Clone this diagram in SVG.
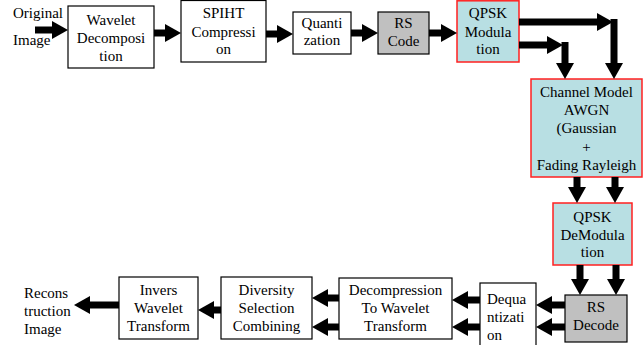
<svg xmlns="http://www.w3.org/2000/svg" width="643" height="345" viewBox="0 0 643 345" font-family="'Liberation Serif', 'DejaVu Serif', serif">
<style>
text{font-family:'Liberation Serif','DejaVu Serif',serif;font-size:15px;fill:#000;text-anchor:middle}
.w{fill:#fff;stroke:#000;stroke-width:1.2}
.g{fill:#c0c0c0;stroke:#000;stroke-width:1.2}
.b{fill:#b8dfe3;stroke:#ff2020;stroke-width:1.5}
.a{stroke:#000;stroke-width:7;fill:none}
text.l{text-anchor:start}
</style>
<defs>
<marker id="h" markerUnits="userSpaceOnUse" markerWidth="16" markerHeight="18" refX="0" refY="9" orient="auto">
<path d="M0,0 L16,9 L0,18 z" fill="#000"/>
</marker>
</defs>
<rect width="643" height="345" fill="#fff"/>
<g id="original"><text class="l" x="13" y="18">Original</text><text class="l" x="13" y="45">Image</text></g>
<g id="wavelet"><rect class="w" x="68" y="6" width="86" height="62"/><text x="111" y="25">Wavelet</text><text x="111" y="43">Decomposi</text><text x="111" y="61">tion</text></g>
<g id="spiht"><rect class="w" x="181" y="0.5" width="85" height="61.5"/><text x="223.5" y="18">SPIHT</text><text x="223.5" y="37">Compressi</text><text x="223.5" y="54">on</text></g>
<g id="quant"><rect class="w" x="293" y="12" width="58" height="42"/><text x="322" y="28">Quanti</text><text x="322" y="45">zation</text></g>
<g id="rscode"><rect class="g" x="378" y="12" width="51" height="42"/><text x="403.5" y="28">RS</text><text x="403.5" y="46">Code</text></g>
<g id="qpskmod"><rect class="b" x="457" y="0.8" width="62" height="61.2"/><text x="488" y="18">QPSK</text><text x="488" y="37">Modula</text><text x="488" y="54">tion</text></g>
<g id="channel"><rect class="b" x="531" y="79" width="111" height="98"/><text x="586.5" y="97">Channel Model</text><text x="586.5" y="115">AWGN</text><text x="586.5" y="133">(Gaussian</text><text x="586.5" y="152">+</text><text x="586.5" y="170">Fading Rayleigh</text></g>
<g id="qpskdemod"><rect class="b" x="553" y="203" width="79" height="62"/><text x="592.5" y="222">QPSK</text><text x="592.5" y="240">DeModula</text><text x="592.5" y="257">tion</text></g>
<g id="rsdecode"><rect class="g" x="565" y="295" width="62" height="47"/><text x="596" y="312">RS</text><text x="596" y="330">Decode</text></g>
<g id="dequant"><rect class="w" x="480" y="283" width="56" height="66"/><text class="l" x="487" y="304">Dequa</text><text class="l" x="487" y="322">ntizati</text><text class="l" x="487" y="340">on</text></g>
<g id="decompression"><rect class="w" x="339" y="278" width="113" height="61"/><text x="395.5" y="295">Decompression</text><text x="395.5" y="313">To  Wavelet</text><text x="395.5" y="331">Transform</text></g>
<g id="diversity"><rect class="w" x="221" y="277" width="91" height="62"/><text x="266.5" y="295">Diversity</text><text x="266.5" y="313">Selection</text><text x="266.5" y="331">Combining</text></g>
<g id="invers"><rect class="w" x="119" y="277" width="79" height="62"/><text x="158.5" y="295">Invers</text><text x="158.5" y="313">Wavelet</text><text x="158.5" y="331">Transform</text></g>
<g id="recon"><text class="l" x="24" y="298">Recons</text><text class="l" x="24" y="316">truction</text><text class="l" x="24" y="334">Image</text></g>
<g id="connectors">
<line class="a" x1="35" y1="30" x2="52" y2="30" marker-end="url(#h)"/>
<line class="a" x1="154" y1="33" x2="165" y2="33" marker-end="url(#h)"/>
<line class="a" x1="266" y1="34" x2="277" y2="34" marker-end="url(#h)"/>
<line class="a" x1="351" y1="33" x2="362" y2="33" marker-end="url(#h)"/>
<line class="a" x1="429" y1="33" x2="441" y2="33" marker-end="url(#h)"/>
<line class="a" x1="519" y1="22" x2="597" y2="22" marker-end="url(#h)"/>
<line class="a" x1="614" y1="19" x2="614" y2="63" marker-end="url(#h)"/>
<line class="a" x1="519" y1="45" x2="547" y2="45" marker-end="url(#h)"/>
<line class="a" x1="565" y1="42" x2="565" y2="63" marker-end="url(#h)"/>
<line class="a" x1="577" y1="177" x2="577" y2="187" marker-end="url(#h)"/>
<line class="a" x1="615" y1="177" x2="615" y2="187" marker-end="url(#h)"/>
<line class="a" x1="580" y1="265" x2="580" y2="279" marker-end="url(#h)"/>
<line class="a" x1="616" y1="265" x2="616" y2="279" marker-end="url(#h)"/>
<line class="a" x1="565" y1="305" x2="552" y2="305" marker-end="url(#h)"/>
<line class="a" x1="565" y1="327" x2="552" y2="327" marker-end="url(#h)"/>
<line class="a" x1="480" y1="300" x2="468" y2="300" marker-end="url(#h)"/>
<line class="a" x1="480" y1="327" x2="468" y2="327" marker-end="url(#h)"/>
<line class="a" x1="339" y1="298" x2="328" y2="298" marker-end="url(#h)"/>
<line class="a" x1="339" y1="327" x2="328" y2="327" marker-end="url(#h)"/>
<line class="a" x1="221" y1="310" x2="214" y2="310" marker-end="url(#h)"/>
<line class="a" x1="119" y1="305" x2="90" y2="305" marker-end="url(#h)"/>
</g>
</svg>
